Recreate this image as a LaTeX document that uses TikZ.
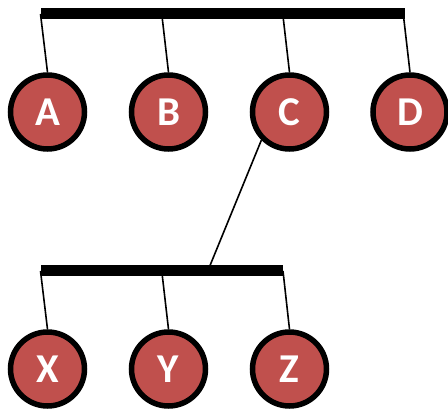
\documentclass[tikz,border=0pt]{standalone}
\usepackage{fontspec}
\setmainfont{Carlito}
\definecolor{nodered}{HTML}{C0504D}
\begin{document}
\begin{tikzpicture}[x=1pt,y=-1pt,
  ball/.style={circle,draw=black,line width=5.5pt,fill=nodered,minimum size=74pt,inner sep=0pt,
    text=white,font=\fontsize{41}{41}\bfseries\selectfont},
  bar/.style={fill=black,inner sep=0pt,minimum height=11pt},
  link/.style={line width=1.6pt}]
\useasboundingbox (0,0) rectangle (448,409);
% bars
\node[bar,minimum width=364pt] (top) at (223,13.5) {};
\node[bar,minimum width=242pt] (low) at (162,270.5) {};
% balls
\node[ball] (A) at (47.5,112) {A};
\node[ball] (B) at (168.5,112) {B};
\node[ball] (C) at (289.5,112) {C};
\node[ball] (D) at (410,112) {D};
\node[ball] (X) at (47.5,369) {X};
\node[ball] (Y) at (168.5,369) {Y};
\node[ball] (Z) at (289.5,369) {Z};
% attachment points
\coordinate (ta) at (40.5,14);
\coordinate (tb) at (162,16);
\coordinate (tc) at (283,16);
\coordinate (td) at (403.5,16);
\coordinate (la) at (40.5,271);
\coordinate (lb) at (162,273);
\coordinate (lc) at (283,271);
\coordinate (lm) at (209,268);
\draw[link] (ta) -- (A.north);
\draw[link] (tb) -- (B.north);
\draw[link] (tc) -- (C.north);
\draw[link] (td) -- (D.north);
\draw[link] (la) -- (X.north);
\draw[link] (lb) -- (Y.north);
\draw[link] (lc) -- (Z.north);
\draw[link] (C.south west) -- (lm);
% redraw bars on top of the links
\fill (top.south west) rectangle (top.north east);
\fill (low.south west) rectangle (low.north east);
\end{tikzpicture}
\end{document}
